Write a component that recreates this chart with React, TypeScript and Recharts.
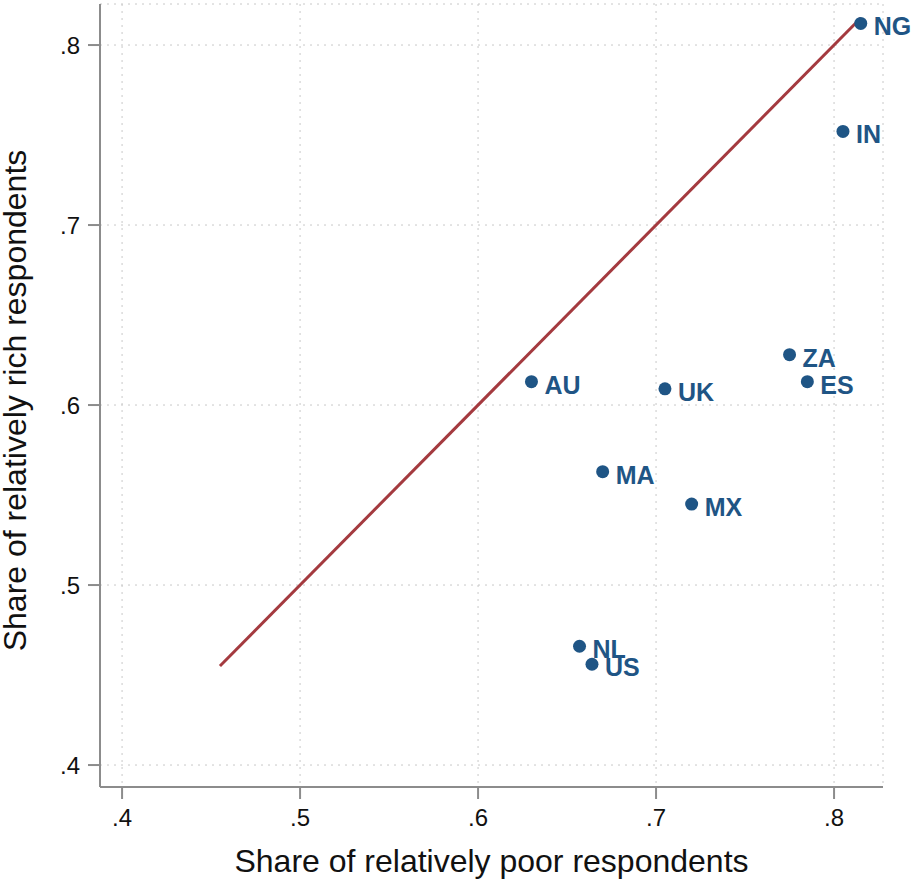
import React from "react";
import { ComposedChart, Scatter, XAxis, YAxis, CartesianGrid, LabelList, Label } from "recharts";

const countries = ["NG", "IN", "ZA", "ES", "AU", "UK", "MA", "MX", "NL", "US"];
const poorShare = [0.815, 0.805, 0.775, 0.785, 0.630, 0.705, 0.670, 0.720, 0.657, 0.664];
const richShare = [0.812, 0.752, 0.628, 0.613, 0.613, 0.609, 0.563, 0.545, 0.466, 0.456];
const diagonal = [0.455, 0.815];
const xTicks = [0.4, 0.5, 0.6, 0.7, 0.8];
const yTicks = [0.4, 0.5, 0.6, 0.7, 0.8];
const xTitle = "Share of relatively poor respondents";
const yTitle = "Share of relatively rich respondents";

const points = countries.map((c, i) => ({ x: poorShare[i], y: richShare[i], label: c }));
const lineData = diagonal.map((v) => ({ x: v, y: v }));

const fmt = (v: number) => String(v).replace(/^0/, "");

const NAVY = "#1f5585";
const MAROON = "#a43a3f";
const AXIS = "#8c8c8c";
const FONT = "'Liberation Sans', Arial, Helvetica, sans-serif";

const Dot = (props: any) => {
  const { cx, cy } = props;
  return <circle cx={cx} cy={cy} r={6.5} fill={NAVY} />;
};

const PointLabel = (props: any) => {
  const { x, y, width, height, value } = props;
  const cx = x + width / 2;
  const cy = y + height / 2;
  return (
    <text x={cx + 13} y={cy + 12} fill={NAVY} fontSize={25} fontWeight="bold" fontFamily={FONT}>
      {value}
    </text>
  );
};

const XTitle = (props: any) => {
  const vb = props.viewBox || {};
  const cx = vb.x + vb.width / 2;
  return (
    <text x={cx} y={872} textAnchor="middle" fill="#111" fontSize={32} fontFamily={FONT}>
      {xTitle}
    </text>
  );
};

const YTitle = (props: any) => {
  const vb = props.viewBox || {};
  const cy = vb.y + vb.height / 2 + 5;
  return (
    <text
      x={26}
      y={cy}
      transform={`rotate(-90, 26, ${cy})`}
      textAnchor="middle"
      fill="#111"
      fontSize={32}
      fontFamily={FONT}
    >
      {yTitle}
    </text>
  );
};

export default function App() {
  return (
    <div style={{ position: "absolute", left: 0, top: 0, background: "#fff" }}>
      <ComposedChart width={911} height={882} margin={{ top: 4, right: 28, bottom: 0, left: 0 }}>
        <CartesianGrid stroke="#c8c8c8" strokeDasharray="2 5" />
        <XAxis
          type="number"
          dataKey="x"
          domain={[0.3876, 0.8275]}
          ticks={xTicks}
          tickFormatter={fmt}
          allowDataOverflow
          height={95}
          tickSize={12}
          stroke={AXIS}
          strokeWidth={2}
          tick={{ fill: "#111", fontSize: 24, fontFamily: FONT, dy: 8 }}
        >
          <Label content={<XTitle />} />
        </XAxis>
        <YAxis
          type="number"
          dataKey="y"
          domain={[0.3878, 0.8228]}
          ticks={yTicks}
          tickFormatter={fmt}
          allowDataOverflow
          width={100}
          tickSize={12}
          stroke={AXIS}
          strokeWidth={2}
          tick={{ fill: "#111", fontSize: 24, fontFamily: FONT, dx: -6 }}
        >
          <Label content={<YTitle />} />
        </YAxis>
        <Scatter
          data={lineData}
          line={{ stroke: MAROON, strokeWidth: 3 }}
          shape={() => null}
          isAnimationActive={false}
        />
        <Scatter data={points} shape={<Dot />} isAnimationActive={false}>
          <LabelList dataKey="label" content={<PointLabel />} />
        </Scatter>
      </ComposedChart>
    </div>
  );
}
